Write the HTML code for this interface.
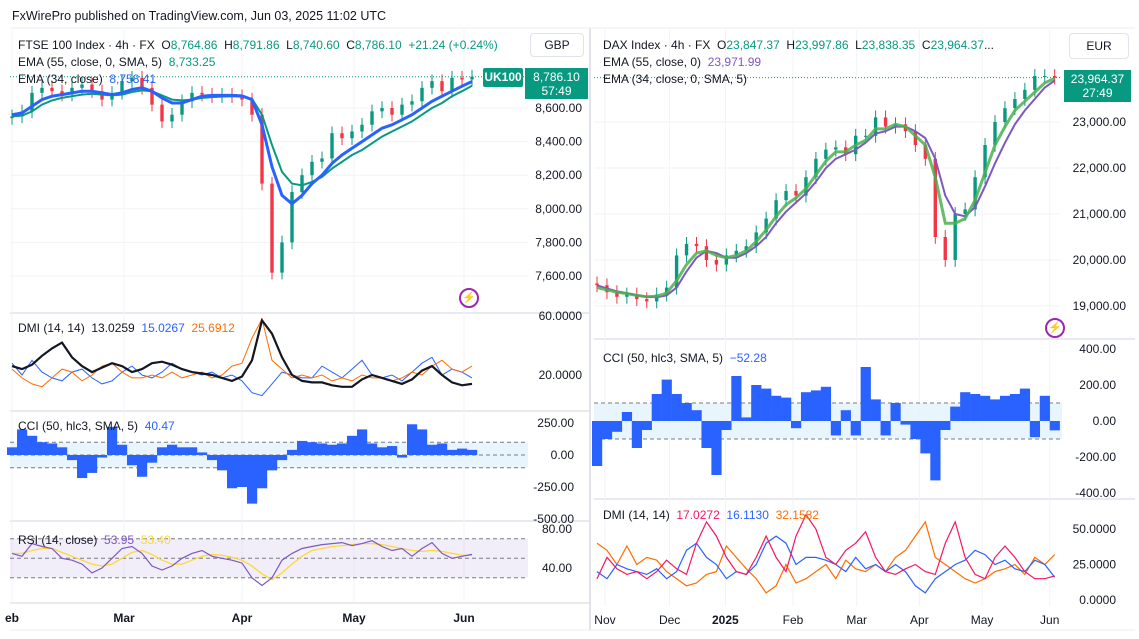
<!DOCTYPE html>
<html><head><meta charset="utf-8">
<style>
body{margin:0;background:#fff;font-family:"Liberation Sans",sans-serif;}
svg text{font-family:"Liberation Sans",sans-serif;}
</style></head>
<body>
<svg id="c" width="1139" height="634" xmlns="http://www.w3.org/2000/svg">
<rect width="1139" height="634" fill="#fff"/>
<text x="12" y="20" font-size="12.5" fill="#131722">FxWirePro published on TradingView.com, Jun 03, 2025 11:02 UTC</text>
<g id="g"></g>
</svg>
<script>
// ---------- FTSE data ----------
const ftseClose=[8550,8580,8690,8720,8700,8680,8720,8740,8700,8650,8690,8760,8780,8720,8620,8520,8560,8640,8690,8680,8670,8680,8670,8650,8560,8150,7620,7800,8100,8200,8280,8300,8450,8420,8460,8500,8580,8600,8560,8620,8640,8720,8760,8700,8780,8770,8786];
const ftseEma34=[8560,8570,8610,8650,8670,8680,8690,8700,8700,8690,8680,8690,8710,8720,8700,8660,8630,8630,8650,8670,8675,8675,8675,8672,8650,8500,8250,8080,8030,8080,8150,8200,8270,8320,8360,8400,8440,8480,8500,8530,8560,8600,8640,8670,8700,8730,8758];
const ftseEma55=[8550,8555,8580,8620,8645,8660,8670,8680,8685,8680,8675,8680,8695,8705,8700,8675,8650,8645,8650,8660,8665,8668,8670,8668,8655,8560,8380,8220,8150,8140,8160,8190,8240,8280,8320,8350,8390,8430,8460,8490,8520,8560,8600,8630,8670,8700,8733];
const ftseAdx=[26,24,27,33,38,42,32,26,22,25,28,26,22,24,28,29,27,24,22,21,20,18,16,19,30,57,48,32,20,16,15,15,13,12,12,17,20,18,16,14,17,23,26,20,15,13,14];
const ftsePdi=[28,20,30,22,18,16,22,24,18,14,16,22,26,20,18,22,28,24,22,20,22,18,20,16,8,6,14,22,20,18,18,26,22,18,24,30,20,18,20,16,22,28,32,20,24,22,18];
const ftseMdi=[24,18,14,12,18,24,22,16,20,26,28,22,18,18,20,18,22,18,20,22,18,20,26,28,45,58,30,24,18,20,18,20,16,18,16,20,18,18,16,18,22,20,26,30,24,22,26];
const ftseCci=[60,200,150,100,90,60,-40,-180,-140,-20,220,80,-80,-170,-60,60,80,60,60,20,-40,-120,-260,-250,-380,-260,-120,-40,40,110,100,90,80,90,150,200,90,60,70,-20,240,200,80,90,40,50,40];
const ftseRsi=[55,52,65,62,60,50,48,44,35,40,50,60,62,55,42,38,42,50,55,58,52,50,48,45,30,22,30,48,55,60,62,64,65,66,63,65,68,62,58,60,52,60,66,55,50,52,54];
const ftseRsiMa=[55,55,58,60,60,56,52,48,44,42,44,50,56,58,54,48,44,44,48,52,54,53,51,48,42,34,28,35,44,52,58,60,62,63,64,65,65,64,62,60,58,57,58,57,55,53,53];
const ftsePriceTicks=[8600,8400,8200,8000,7800,7600];
const ftseMonths=["eb","Mar","Apr","May","Jun"];
const ftseMonthIdx=[0,11.2,23,34.2,45.2];
// ---------- DAX data ----------
const daxClose=[19450,19300,19200,19250,19150,19100,19250,19400,20100,20350,20300,20000,19900,20100,20200,20300,20600,20900,21300,21500,21400,21800,22200,22400,22450,22300,22700,22700,23100,22900,22950,22800,22500,22200,20500,20000,21000,21100,21800,22500,23000,23300,23500,23700,24000,24000,23964];
const daxEma34=[19400,19350,19300,19270,19230,19200,19210,19280,19550,19900,20150,20200,20100,20050,20100,20200,20400,20650,20950,21200,21350,21550,21850,22150,22350,22350,22500,22600,22850,22850,22950,22900,22700,22500,21800,20800,20800,20900,21300,21900,22500,22900,23250,23450,23650,23850,23950];
const daxEma55=[19450,19380,19320,19280,19240,19200,19190,19230,19400,19750,20050,20200,20150,20050,20050,20150,20300,20500,20800,21050,21250,21450,21700,22000,22200,22300,22400,22550,22750,22800,22900,22900,22800,22650,22200,21400,21000,20950,21150,21600,22100,22550,22950,23250,23500,23750,23900];
const daxCci=[-250,-100,-60,50,-150,-50,150,230,150,100,60,-150,-300,-50,250,20,200,180,140,130,-40,160,170,190,-80,60,-80,300,120,-80,100,-20,-100,-180,-330,-50,80,160,150,140,120,140,150,180,-90,140,-52];
const daxAdx=[15,30,22,18,20,15,20,28,22,18,40,55,45,30,20,18,30,45,30,20,45,60,50,30,25,35,40,48,30,20,18,22,25,20,18,40,55,30,18,15,30,38,30,20,15,15,17];
const daxPdi=[20,15,25,22,20,18,22,15,20,35,40,30,25,15,20,18,25,40,45,40,25,30,30,28,25,20,30,22,25,20,25,20,10,5,15,20,25,28,35,32,25,28,22,20,28,25,16];
const daxMdi=[40,35,25,38,25,30,28,20,15,10,12,18,20,38,30,22,15,5,10,25,12,15,20,25,15,28,22,20,25,20,30,35,45,55,30,25,20,15,12,15,20,22,25,18,30,25,32];
const daxPriceTicks=[23000,22000,21000,20000,19000];
const daxMonths=["Nov","Dec","2025","Feb","Mar","Apr","May","Jun"];
const daxMonthIdx=[0.8,7.3,12.9,19.7,26.1,32.4,38.7,45.5];

const NS="http://www.w3.org/2000/svg";
const G=document.getElementById('g');
function mk(tag,attrs,parent){const e=document.createElementNS(NS,tag);for(const k in attrs)e.setAttribute(k,attrs[k]);(parent||G).appendChild(e);return e;}
function txt(x,y,s,fill,size,anchor,parent){const t=mk('text',{x:x,y:y,fill:fill,'font-size':size||12,'text-anchor':anchor||'start'},parent);t.textContent=s;return t;}
function lin(v0,p0,v1,p1){return v=>p0+(v-v0)*(p1-p0)/(v1-v0);}
function linePath(arr,xf,yf){return arr.map((v,i)=>(i?'L':'M')+xf(i).toFixed(1)+' '+yf(v).toFixed(1)).join(' ');}

// ===== LEFT (FTSE) =====
const lx=i=>12+i*10;
const ly=lin(8600,108,7600,276);
const lDmi=lin(60,316,20,375);
const lCci=lin(0,455,250,423);
const lRsi=lin(80,529,40,568);

for(const y of [313,411,521,603]){const s=mk('line',{x1:10,x2:590,y1:y,y2:y,stroke:'#e0e3eb','stroke-width':1.5});}
mk('line',{x1:590,x2:590,y1:28,y2:630,stroke:'#e0e3eb','stroke-width':2});
mk('line',{x1:10,x2:1135,y1:28,y2:28,stroke:'#e9ecf2'});
mk('line',{x1:10,x2:1135,y1:630,y2:630,stroke:'#e9ecf2'});
for(const v of ftsePriceTicks){mk('line',{x1:10,x2:528,y1:ly(v),y2:ly(v),stroke:'#f2f3f6'});}
for(const i of ftseMonthIdx){mk('line',{x1:lx(i),x2:lx(i),y1:30,y2:603,stroke:'#f2f3f6'});}

const lCandles=mk('g',{});


ftseClose.forEach((c,i)=>{const o=i?ftseClose[i-1]:c-10;const up=c>=o;const col=up?'#089981':'#f23645';
 const x=lx(i);const hi=Math.max(o,c)+40,lo=Math.min(o,c)-40;
 mk('line',{x1:x,x2:x,y1:ly(hi),y2:ly(lo),stroke:col,'stroke-width':1},lCandles);
 const b=mk('rect',{x:x-1.7,y:ly(Math.max(o,c)),width:3.4,height:Math.max(1,ly(Math.min(o,c))-ly(Math.max(o,c))),fill:col},lCandles);
 });
let p=mk('path',{d:linePath(ftseEma55,lx,ly),fill:'none',stroke:'#089981','stroke-width':2});

p=mk('path',{d:linePath(ftseEma34,lx,ly),fill:'none',stroke:'#2962ff','stroke-width':3});

mk('line',{x1:10,x2:528,y1:ly(8786),y2:ly(8786),stroke:'#089981','stroke-dasharray':'1 2'});
ftsePriceTicks.forEach(v=>{const t=txt(582,ly(v)+4,v.toLocaleString('en-US',{minimumFractionDigits:2}),'#131722',12,'end');});
[[ftsePdi,'#2962ff',1],[ftseMdi,'#ff6d00',1],[ftseAdx,'#131722',2.2]].forEach(([a,c,w],k)=>{const q=mk('path',{d:linePath(a,lx,lDmi),fill:'none',stroke:c,'stroke-width':w});});
txt(582,lDmi(60)+4,'60.0000','#131722',12,'end');
txt(582,lDmi(20)+4,'20.0000','#131722',12,'end');
mk('rect',{x:10,y:lCci(100),width:518,height:lCci(-100)-lCci(100),fill:'#e3f2fd',opacity:0.8});
for(const v of [100,0,-100]){mk('line',{x1:10,x2:528,y1:lCci(v),y2:lCci(v),stroke:'#787b86','stroke-dasharray':'4 3'});}
ftseCci.forEach((v,i)=>{const r=mk('rect',{x:lx(i)-5,y:Math.min(lCci(v),lCci(0)),width:10.2,height:Math.abs(lCci(v)-lCci(0)),fill:'#2962ff'});});
[[250,'250.00'],[0,'0.00'],[-250,'-250.00'],[-500,'-500.00']].forEach(([v,s])=>txt(574,lCci(v)+4,s,'#131722',12,'end'));
mk('rect',{x:10,y:lRsi(70),width:518,height:lRsi(30)-lRsi(70),fill:'#7e57c2',opacity:0.1});
for(const v of [70,50,30]){mk('line',{x1:10,x2:528,y1:lRsi(v),y2:lRsi(v),stroke:'#787b86','stroke-dasharray':'4 3'});}
p=mk('path',{d:linePath(ftseRsiMa,lx,lRsi),fill:'none',stroke:'#fdd835','stroke-width':1.3});

p=mk('path',{d:linePath(ftseRsi,lx,lRsi),fill:'none',stroke:'#7e57c2','stroke-width':1.2});

txt(572,lRsi(80)+4,'80.00','#131722',12,'end');
txt(572,lRsi(40)+4,'40.00','#131722',12,'end');
ftseMonths.forEach((m,k)=>{const t=txt(lx(ftseMonthIdx[k]),622,m,'#131722',12,'middle');t.setAttribute('font-weight','bold');});

// ===== RIGHT (DAX) =====
const rx=i=>597+i*9.95;
const ry=lin(23000,122,19000,306);
const rCci=lin(0,421,200,385);
const rDmi=lin(0,600,50,529);
for(const y of [339,499]){mk('line',{x1:594,x2:1135,y1:y,y2:y,stroke:'#e0e3eb','stroke-width':1.5});}
for(const v of daxPriceTicks){mk('line',{x1:594,x2:1060,y1:ry(v),y2:ry(v),stroke:'#f2f3f6'});}
for(const i of daxMonthIdx){mk('line',{x1:rx(i),x2:rx(i),y1:30,y2:606,stroke:'#f2f3f6'});}
const rCandles=mk('g',{});


daxClose.forEach((c,i)=>{const o=i?daxClose[i-1]:c+40;const up=c>=o;const col=up?'#089981':'#f23645';
 const x=rx(i);const hi=Math.max(o,c)+150,lo=Math.min(o,c)-150;
 mk('line',{x1:x,x2:x,y1:ry(hi),y2:ry(lo),stroke:col,'stroke-width':1},rCandles);
 const b=mk('rect',{x:x-1.7,y:ry(Math.max(o,c)),width:3.4,height:Math.max(1,ry(Math.min(o,c))-ry(Math.max(o,c))),fill:col},rCandles);
 });
p=mk('path',{d:linePath(daxEma55,rx,ry),fill:'none',stroke:'#7e57c2','stroke-width':2});

p=mk('path',{d:linePath(daxEma34,rx,ry),fill:'none',stroke:'#4caf50','stroke-width':3,opacity:0.85});

mk('line',{x1:594,x2:1062,y1:ry(23964),y2:ry(23964),stroke:'#089981','stroke-dasharray':'1 2'});
daxPriceTicks.forEach(v=>{const t=txt(1126,ry(v)+4,v.toLocaleString('en-US',{minimumFractionDigits:2}),'#131722',12,'end');});
mk('rect',{x:594,y:rCci(100),width:468,height:rCci(-100)-rCci(100),fill:'#e3f2fd',opacity:0.8});
for(const v of [100,-100]){mk('line',{x1:594,x2:1062,y1:rCci(v),y2:rCci(v),stroke:'#787b86','stroke-dasharray':'4 3'});}
daxCci.forEach((v,i)=>{const r=mk('rect',{x:rx(i)-5,y:Math.min(rCci(v),rCci(0)),width:10.2,height:Math.abs(rCci(v)-rCci(0)),fill:'#2962ff'});});
[[400,'400.00'],[200,'200.00'],[0,'0.00'],[-200,'-200.00'],[-400,'-400.00']].forEach(([v,s])=>txt(1116,rCci(v)+4,s,'#131722',12,'end'));
[[daxMdi,'#ff6d00'],[daxPdi,'#2962ff'],[daxAdx,'#f7165f']].forEach(([a,c],k)=>{const q=mk('path',{d:linePath(a,rx,rDmi),fill:'none',stroke:c,'stroke-width':1.2});});
[[50,'50.0000'],[25,'25.0000'],[0,'0.0000']].forEach(([v,s])=>txt(1116,rDmi(v)+4,s,'#131722',12,'end'));
daxMonths.forEach((m,k)=>{const t=txt(rx(daxMonthIdx[k]),624,m,'#131722',12,'middle');if(m==='2025')t.setAttribute('font-weight','bold');});
</script>
<div style="position:absolute;left:0;top:0;width:1139px;height:634px;pointer-events:none;font-size:12px;color:#131722;font-family:'Liberation Sans',sans-serif;">
 <div style="position:absolute;left:18px;top:37px;line-height:17px;">
  <div>FTSE 100 Index · 4h · FX &nbsp;O<span style="color:#089981">8,764.86</span> &nbsp;H<span style="color:#089981">8,791.86</span> &nbsp;L<span style="color:#089981">8,740.60</span> &nbsp;C<span style="color:#089981">8,786.10</span> &nbsp;<span style="color:#089981">+21.24 (+0.24%)</span></div>
  <div>EMA (55, close, 0, SMA, 5) &nbsp;<span style="color:#089981">8,733.25</span></div>
  <div>EMA (34, close) &nbsp;<span style="color:#2962ff">8,758.41</span></div>
 </div>
 <div style="position:absolute;left:530px;top:33px;width:52px;height:22px;border:1px solid #e0e3eb;border-radius:4px;text-align:center;line-height:22px;background:#fff;">GBP</div>
 <div style="position:absolute;left:483px;top:68px;width:40px;height:19px;background:#089981;color:#fff;font-weight:bold;text-align:center;line-height:19px;border-radius:2px;">UK100</div>
 <div style="position:absolute;left:525px;top:68px;width:63px;height:31px;background:#089981;color:#fff;text-align:center;line-height:14px;padding-top:2px;box-sizing:border-box;">8,786.10<br>57:49</div>
 <div style="position:absolute;left:18px;top:321px;">DMI (14, 14) &nbsp;13.0259 &nbsp;<span style="color:#2962ff">15.0267</span> &nbsp;<span style="color:#ff6d00">25.6912</span></div>
 <div style="position:absolute;left:18px;top:419px;">CCI (50, hlc3, SMA, 5) &nbsp;<span style="color:#2962ff">40.47</span></div>
 <div style="position:absolute;left:18px;top:533px;">RSI (14, close) &nbsp;<span style="color:#7e57c2">53.95</span> &nbsp;<span style="color:#fdd835">53.40</span></div>
 <div style="position:absolute;left:459px;top:288px;width:16px;height:16px;border:2px solid #9c27b0;border-radius:50%;color:#9c27b0;font-size:11px;text-align:center;line-height:16px;">⚡</div>
 <div style="position:absolute;left:603px;top:37px;line-height:17px;">
  <div>DAX Index · 4h · FX &nbsp;O<span style="color:#089981">23,847.37</span> &nbsp;H<span style="color:#089981">23,997.86</span> &nbsp;L<span style="color:#089981">23,838.35</span> &nbsp;C<span style="color:#089981">23,964.37</span>...</div>
  <div>EMA (55, close, 0) &nbsp;<span style="color:#7e57c2">23,971.99</span></div>
  <div>EMA (34, close, 0, SMA, 5)</div>
 </div>
 <div style="position:absolute;left:1069px;top:33px;width:58px;height:24px;border:1px solid #e0e3eb;border-radius:4px;text-align:center;line-height:24px;background:#fff;">EUR</div>
 <div style="position:absolute;left:1064px;top:70px;width:67px;height:32px;background:#089981;color:#fff;text-align:center;line-height:14px;padding-top:2px;box-sizing:border-box;">23,964.37<br>27:49</div>
 <div style="position:absolute;left:603px;top:351px;">CCI (50, hlc3, SMA, 5) &nbsp;<span style="color:#2962ff">−52.28</span></div>
 <div style="position:absolute;left:603px;top:508px;">DMI (14, 14) &nbsp;<span style="color:#f7165f">17.0272</span> &nbsp;<span style="color:#2962ff">16.1130</span> &nbsp;<span style="color:#ff6d00">32.1582</span></div>
 <div style="position:absolute;left:1045px;top:318px;width:16px;height:16px;border:2px solid #9c27b0;border-radius:50%;color:#9c27b0;font-size:11px;text-align:center;line-height:16px;">⚡</div>
</div>
</body></html>
